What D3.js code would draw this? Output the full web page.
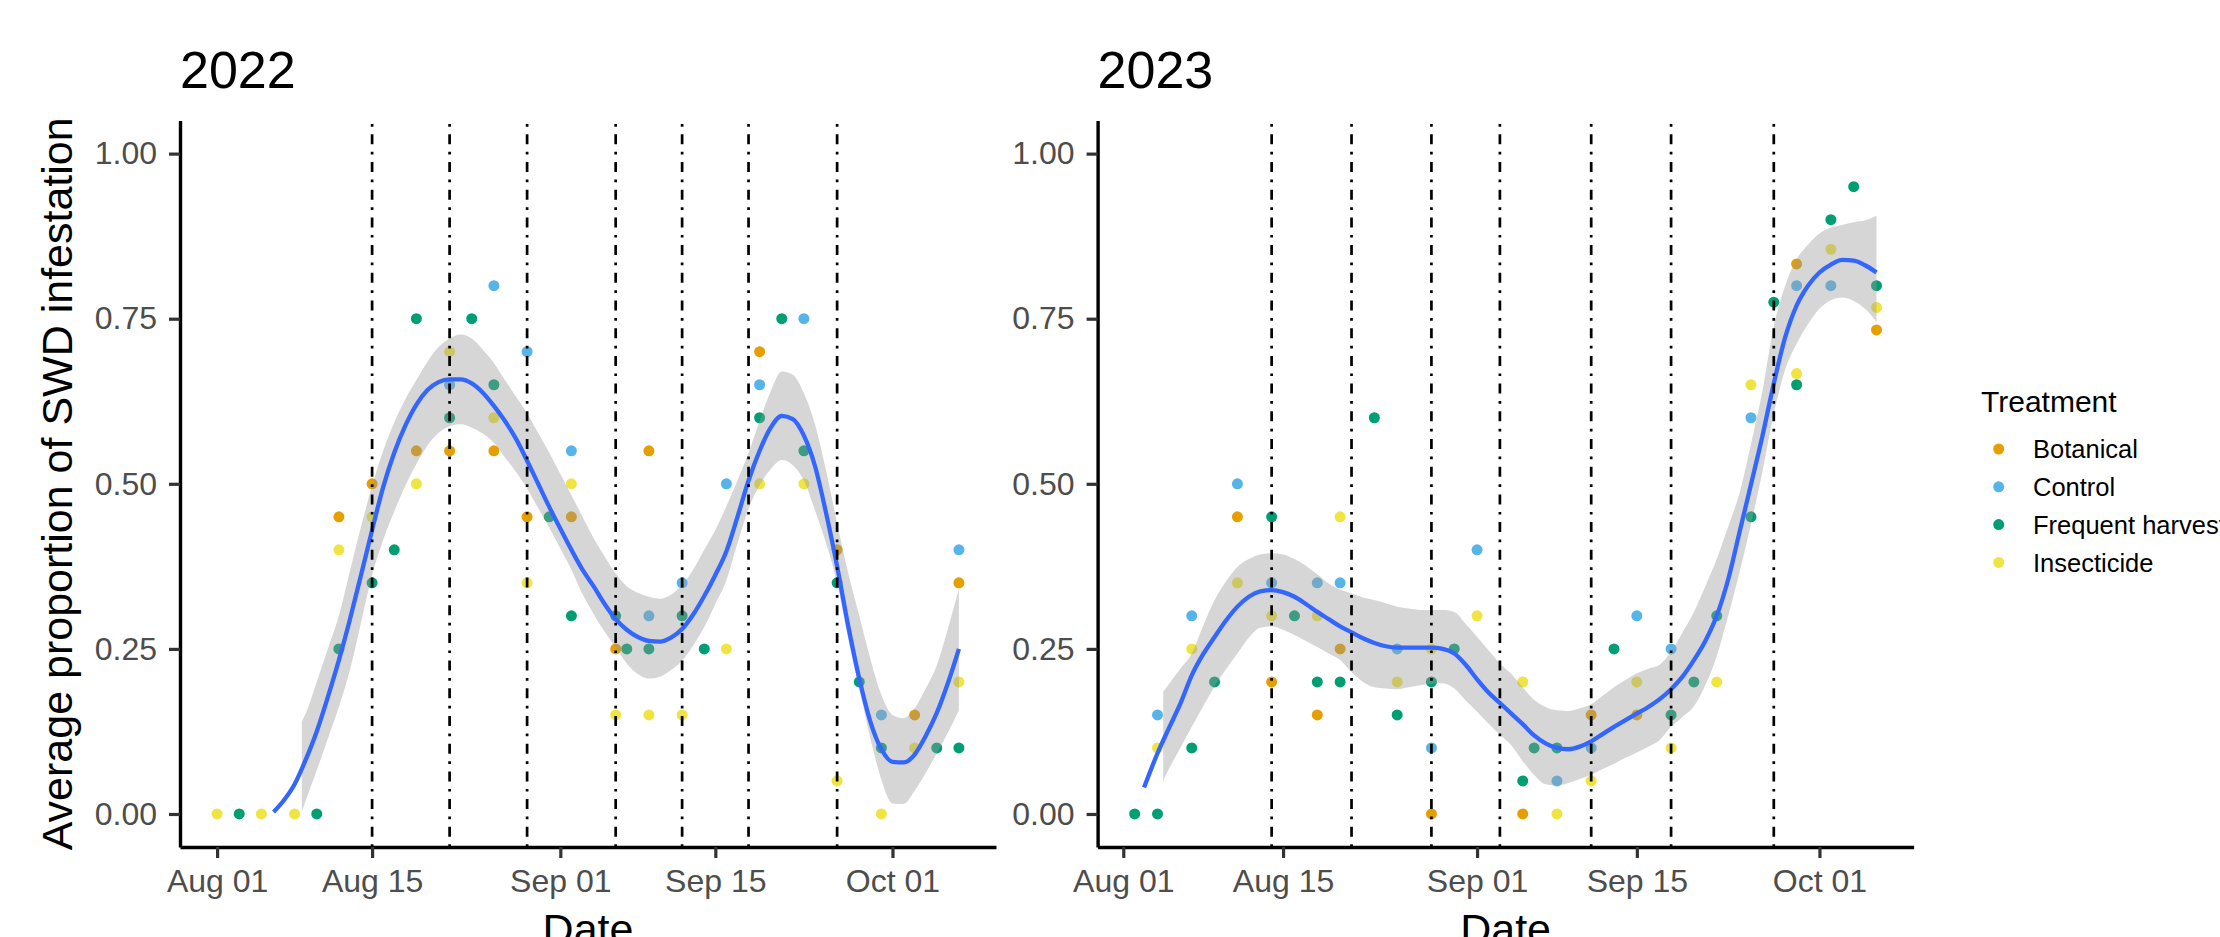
<!DOCTYPE html>
<html>
<head>
<meta charset="utf-8">
<script src="https://cdn.jsdelivr.net/npm/d3@7"></script>
<style>
body { margin: 0; background: #fff; }
text { font-family: "Liberation Sans", Arial, Helvetica, sans-serif; }
</style>
</head>
<body>
<div id="chart"></div>
<script>
var treatments = ["Botanical", "Control", "Frequent harvest", "Insecticide"];
var treatmentColors = ["#E69F00", "#56B4E9", "#009E73", "#F0E442"];
var yTicks = [0, 0.25, 0.5, 0.75, 1];
var xTickDays = ["08-01", "08-15", "09-01", "09-15", "10-01"];

// 2022 observations: [month-day, average proportion]
var botanical2022 = [["08-12", 0.45], ["08-15", 0.5], ["08-19", 0.55], ["08-22", 0.55], ["08-26", 0.55], ["08-29", 0.45],
    ["09-02", 0.45], ["09-06", 0.25], ["09-09", 0.55], ["09-19", 0.7], ["09-26", 0.4], ["10-03", 0.15], ["10-07", 0.35]];
var control2022 = [["08-22", 0.65], ["08-26", 0.8], ["08-29", 0.7], ["09-02", 0.55], ["09-09", 0.3], ["09-12", 0.35],
    ["09-16", 0.5], ["09-19", 0.65], ["09-23", 0.75], ["09-30", 0.15], ["10-07", 0.4]];
var frequent2022 = [["08-03", 0], ["08-10", 0], ["08-12", 0.25], ["08-15", 0.35], ["08-17", 0.4], ["08-19", 0.75],
    ["08-22", 0.6], ["08-24", 0.75], ["08-26", 0.65], ["08-31", 0.45], ["09-02", 0.3], ["09-06", 0.3], ["09-07", 0.25],
    ["09-09", 0.25], ["09-12", 0.3], ["09-14", 0.25], ["09-19", 0.6], ["09-21", 0.75], ["09-23", 0.55], ["09-26", 0.35],
    ["09-28", 0.2], ["09-30", 0.1], ["10-05", 0.1], ["10-07", 0.1]];
var insecticide2022 = [["08-01", 0], ["08-05", 0], ["08-08", 0], ["08-12", 0.4], ["08-15", 0.45], ["08-19", 0.5],
    ["08-22", 0.7], ["08-26", 0.6], ["08-29", 0.35], ["09-02", 0.5], ["09-06", 0.15], ["09-09", 0.15], ["09-12", 0.15],
    ["09-16", 0.25], ["09-19", 0.5], ["09-23", 0.5], ["09-26", 0.05], ["09-30", 0], ["10-03", 0.1], ["10-07", 0.2]];
var sprays2022 = ["08-15", "08-22", "08-29", "09-06", "09-12", "09-18", "09-26"];

// 2023 observations
var botanical2023 = [["08-11", 0.45], ["08-14", 0.2], ["08-18", 0.15], ["08-20", 0.25], ["08-28", 0], ["09-05", 0],
    ["09-11", 0.15], ["09-15", 0.15], ["09-29", 0.833], ["10-06", 0.733]];
var control2023 = [["08-04", 0.15], ["08-07", 0.3], ["08-11", 0.5], ["08-14", 0.35], ["08-18", 0.35], ["08-20", 0.35],
    ["08-25", 0.25], ["08-28", 0.1], ["09-01", 0.4], ["09-08", 0.05], ["09-11", 0.1], ["09-15", 0.3], ["09-18", 0.25],
    ["09-25", 0.6], ["09-29", 0.8], ["10-02", 0.8]];
var frequent2023 = [["08-02", 0], ["08-04", 0], ["08-07", 0.1], ["08-09", 0.2], ["08-14", 0.45], ["08-16", 0.3],
    ["08-18", 0.2], ["08-20", 0.2], ["08-23", 0.6], ["08-25", 0.15], ["08-28", 0.2], ["08-30", 0.25], ["09-05", 0.05],
    ["09-06", 0.1], ["09-08", 0.1], ["09-13", 0.25], ["09-18", 0.15], ["09-20", 0.2], ["09-22", 0.3], ["09-25", 0.45],
    ["09-27", 0.775], ["09-29", 0.65], ["10-02", 0.9], ["10-04", 0.95], ["10-06", 0.8]];
var insecticide2023 = [["08-04", 0.1], ["08-07", 0.25], ["08-11", 0.35], ["08-14", 0.3], ["08-18", 0.3], ["08-20", 0.45],
    ["08-25", 0.2], ["08-28", 0.25], ["09-01", 0.3], ["09-05", 0.2], ["09-08", 0], ["09-11", 0.05], ["09-15", 0.2],
    ["09-18", 0.1], ["09-22", 0.2], ["09-25", 0.65], ["09-29", 0.667], ["10-02", 0.855], ["10-06", 0.767]];
var sprays2023 = ["08-14", "08-21", "08-28", "09-03", "09-11", "09-18", "09-27"];

// smoother, x in days after Aug 01
var fitDays2022 = [5.1, 6, 7, 8, 9, 10, 11, 12, 13, 14, 15, 16, 17, 18, 19, 20, 21, 22, 23, 24, 25, 26, 27, 28, 29, 30, 31,
    32, 33, 34, 35, 36, 37, 38, 39, 40, 41, 42, 43, 44, 45, 46, 47, 48, 49, 50, 51, 52, 53, 54, 55, 56, 57, 58, 59, 60,
    61, 62, 63, 64, 65, 66, 67];
var fit2022 = [0.003, 0.02, 0.045, 0.082, 0.125, 0.177, 0.233, 0.295, 0.362, 0.43, 0.495, 0.547, 0.588, 0.62, 0.642,
    0.654, 0.658, 0.658, 0.652, 0.638, 0.618, 0.595, 0.568, 0.535, 0.5, 0.465, 0.432, 0.4, 0.37, 0.345, 0.318, 0.295,
    0.279, 0.268, 0.262, 0.261, 0.267, 0.28, 0.302, 0.33, 0.362, 0.398, 0.45, 0.505, 0.55, 0.585, 0.603, 0.598, 0.573,
    0.527, 0.456, 0.375, 0.285, 0.205, 0.14, 0.098, 0.079, 0.078, 0.09, 0.118, 0.153, 0.198, 0.25];
var bandDays2022 = [7.65, 8, 9, 10, 11, 12, 13, 14, 15, 16, 17, 18, 19, 20, 21, 22, 23, 24, 25, 26, 27, 28, 29, 30, 31,
    32, 33, 34, 35, 36, 37, 38, 39, 40, 41, 42, 43, 44, 45, 46, 47, 48, 49, 50, 51, 52, 53, 54, 55, 56, 57, 58, 59, 60,
    61, 62, 63, 64, 65, 66, 67];
var bandLow2022 = [0.003, 0.02, 0.066, 0.114, 0.162, 0.218, 0.29, 0.362, 0.415, 0.458, 0.497, 0.53, 0.558, 0.577, 0.587,
    0.59, 0.585, 0.576, 0.562, 0.54, 0.518, 0.493, 0.463, 0.434, 0.402, 0.37, 0.333, 0.303, 0.276, 0.252, 0.228, 0.212,
    0.205, 0.208, 0.218, 0.232, 0.255, 0.283, 0.318, 0.354, 0.41, 0.462, 0.498, 0.522, 0.536, 0.528, 0.505, 0.46, 0.41,
    0.35, 0.265, 0.19, 0.115, 0.052, 0.016, 0.015, 0.035, 0.062, 0.092, 0.123, 0.157];
var bandHigh2022 = [0.14, 0.152, 0.2, 0.25, 0.3, 0.368, 0.435, 0.497, 0.55, 0.593, 0.628, 0.657, 0.685, 0.707, 0.72,
    0.726, 0.72, 0.703, 0.683, 0.657, 0.632, 0.607, 0.577, 0.547, 0.515, 0.483, 0.45, 0.418, 0.39, 0.364, 0.345, 0.335,
    0.329, 0.326, 0.332, 0.347, 0.37, 0.4, 0.43, 0.466, 0.505, 0.547, 0.595, 0.64, 0.67, 0.665, 0.637, 0.59, 0.52, 0.44,
    0.365, 0.3, 0.235, 0.18, 0.15, 0.145, 0.16, 0.19, 0.225, 0.28, 0.341];

var fitDays2023 = [1.82, 3, 4, 5, 6, 7, 8, 9, 10, 11, 12, 13, 14, 15, 16, 17, 18, 19, 20, 21, 22, 23, 24, 25, 26, 27, 28,
    29, 30, 31, 32, 33, 34, 35, 36, 37, 38, 39, 40, 41, 42, 43, 44, 45, 46, 47, 48, 49, 50, 51, 52, 53, 54, 55, 56, 57,
    58, 59, 60, 61, 62, 63, 64, 65, 66];
var fit2023 = [0.04, 0.092, 0.13, 0.167, 0.21, 0.242, 0.268, 0.293, 0.314, 0.329, 0.337, 0.339, 0.336, 0.329, 0.318,
    0.306, 0.295, 0.284, 0.275, 0.266, 0.259, 0.254, 0.252, 0.252, 0.252, 0.252, 0.25, 0.243, 0.226, 0.204, 0.184, 0.168,
    0.152, 0.136, 0.119, 0.107, 0.1, 0.098, 0.102, 0.11, 0.121, 0.132, 0.142, 0.152, 0.162, 0.174, 0.189, 0.208, 0.233,
    0.262, 0.3, 0.355, 0.427, 0.499, 0.572, 0.652, 0.722, 0.77, 0.8, 0.82, 0.832, 0.839, 0.838, 0.831, 0.82];
var bandDays2023 = [3.5, 4, 5, 6, 7, 8, 9, 10, 11, 12, 13, 14, 15, 16, 17, 18, 19, 20, 21, 22, 23, 24, 25, 26, 27, 28, 29,
    30, 31, 32, 33, 34, 35, 36, 37, 38, 39, 40, 41, 42, 43, 44, 45, 46, 47, 48, 49, 50, 51, 52, 53, 54, 55, 56, 57, 58,
    59, 60, 61, 62, 63, 64, 65, 66];
var bandLow2023 = [0.05, 0.068, 0.1, 0.132, 0.163, 0.193, 0.219, 0.243, 0.267, 0.282, 0.284, 0.279, 0.271, 0.262, 0.253,
    0.243, 0.233, 0.215, 0.2, 0.192, 0.19, 0.189, 0.192, 0.195, 0.197, 0.198, 0.19, 0.172, 0.155, 0.137, 0.12, 0.104,
    0.08, 0.059, 0.045, 0.043, 0.047, 0.053, 0.059, 0.068, 0.076, 0.085, 0.093, 0.102, 0.112, 0.132, 0.147, 0.163, 0.195,
    0.239, 0.3, 0.366, 0.439, 0.518, 0.606, 0.673, 0.712, 0.742, 0.765, 0.778, 0.782, 0.777, 0.765, 0.745];
var bandHigh2023 = [0.185, 0.197, 0.22, 0.243, 0.285, 0.324, 0.352, 0.374, 0.386, 0.393, 0.395, 0.393, 0.386, 0.376,
    0.363, 0.349, 0.34, 0.334, 0.328, 0.324, 0.319, 0.314, 0.311, 0.309, 0.309, 0.309, 0.306, 0.288, 0.268, 0.248, 0.228,
    0.212, 0.192, 0.173, 0.162, 0.157, 0.156, 0.16, 0.166, 0.179, 0.192, 0.203, 0.213, 0.22, 0.226, 0.246, 0.275, 0.306,
    0.345, 0.386, 0.435, 0.486, 0.56, 0.64, 0.739, 0.8, 0.84, 0.862, 0.879, 0.888, 0.892, 0.896, 0.899, 0.906];

var panels = [
    { year: 2022, left: 180, points: [botanical2022, control2022, frequent2022, insecticide2022], sprays: sprays2022,
      fitDays: fitDays2022, fit: fit2022, bandDays: bandDays2022, low: bandLow2022, high: bandHigh2022 },
    { year: 2023, left: 1097.6, points: [botanical2023, control2023, frequent2023, insecticide2023], sprays: sprays2023,
      fitDays: fitDays2023, fit: fit2023, bandDays: bandDays2023, low: bandLow2023, high: bandHigh2023 }
];

var dim = { width: 2220, height: 937, panelWidth: 816, top: 120.6, bottom: 847 };
var parseDate = d3.utcParse("%Y-%m-%d");

var svg = d3.select("#chart").append("svg")
    .attr("width", dim.width)
    .attr("height", dim.height);

var y = d3.scaleLinear()
    .domain([-0.05, 1.05])
    .range([dim.bottom, dim.top]);

panels.forEach(function (p) {
    function md(s) { return parseDate(p.year + "-" + s); }
    var start = md("08-01");
    function day(d) { return new Date(+start + d * 864e5); }

    var dates = [];
    p.points.forEach(function (s) { s.forEach(function (d) { dates.push(md(d[0])); }); });
    var ext = d3.extent(dates), pad = (ext[1] - ext[0]) * 0.05;

    var x = d3.scaleUtc()
        .domain([new Date(+ext[0] - pad), new Date(+ext[1] + pad)])
        .range([p.left, p.left + dim.panelWidth]);

    var g = svg.append("g").attr("class", "panel-" + p.year);

    // points
    p.points.forEach(function (series, i) {
        g.append("g").selectAll("circle")
            .data(series)
            .enter().append("circle")
            .attr("cx", function (d) { return x(md(d[0])); })
            .attr("cy", function (d) { return y(d[1]); })
            .attr("r", 5.5)
            .attr("fill", treatmentColors[i]);
    });

    // confidence band
    var band = d3.area()
        .x(function (d) { return x(day(d)); })
        .y0(function (d, i) { return y(p.low[i]); })
        .y1(function (d, i) { return y(p.high[i]); })
        .curve(d3.curveMonotoneX);
    g.append("path")
        .datum(p.bandDays)
        .attr("d", band)
        .attr("fill", "#999999")
        .attr("fill-opacity", 0.4);

    var line = d3.line()
        .x(function (d) { return x(day(d)); })
        .y(function (d, i) { return y(p.fit[i]); })
        .curve(d3.curveMonotoneX);
    g.append("path")
        .datum(p.fitDays)
        .attr("d", line)
        .attr("fill", "none")
        .attr("stroke", "#3366FF")
        .attr("stroke-width", 4.3);

    // spray dates
    g.append("g").selectAll("line")
        .data(p.sprays)
        .enter().append("line")
        .attr("x1", function (d) { return x(md(d)); })
        .attr("x2", function (d) { return x(md(d)); })
        .attr("y1", dim.bottom)
        .attr("y2", dim.top)
        .attr("stroke", "#000")
        .attr("stroke-width", 2.7)
        .attr("stroke-dasharray", "2.7,7.5,10,7.5");

    // axes
    var xAxis = d3.axisBottom(x)
        .tickValues(xTickDays.map(md))
        .tickFormat(d3.utcFormat("%b %d"))
        .tickSize(11)
        .tickSizeOuter(0)
        .tickPadding(11);
    var yAxis = d3.axisLeft(y)
        .tickValues(yTicks)
        .tickFormat(d3.format(".2f"))
        .tickSize(11)
        .tickSizeOuter(0)
        .tickPadding(12);

    var gx = g.append("g")
        .attr("transform", "translate(0," + dim.bottom + ")")
        .call(xAxis);
    var gy = g.append("g")
        .attr("transform", "translate(" + p.left + ",0)")
        .call(yAxis);

    [gx, gy].forEach(function (a) {
        a.select(".domain").attr("stroke", "#000").attr("stroke-width", 3.4);
        a.selectAll(".tick line").attr("stroke", "#333333").attr("stroke-width", 3.2);
        a.selectAll(".tick text")
            .attr("fill", "#4D4D4D")
            .style("font-size", "32px")
            .style("font-family", "'Liberation Sans', Arial, sans-serif");
    });

    g.append("text")
        .attr("x", p.left)
        .attr("y", 88)
        .style("font-size", "52px")
        .attr("fill", "#000")
        .text(String(p.year));

    g.append("text")
        .attr("x", p.left + dim.panelWidth / 2)
        .attr("y", 944)
        .attr("text-anchor", "middle")
        .style("font-size", "43px")
        .text("Date");
});

svg.append("text")
    .attr("transform", "translate(72," + (dim.top + dim.bottom) / 2 + ") rotate(-90)")
    .attr("text-anchor", "middle")
    .style("font-size", "43px")
    .text("Average proportion of SWD infestation");

// legend
var legend = svg.append("g").attr("transform", "translate(1981,0)");
legend.append("text")
    .attr("x", 0)
    .attr("y", 411.7)
    .style("font-size", "30px")
    .text("Treatment");

var keys = legend.selectAll("g.key")
    .data(treatments)
    .enter().append("g")
    .attr("class", "key")
    .attr("transform", function (d, i) { return "translate(0," + (449 + i * 37.8) + ")"; });
keys.append("circle")
    .attr("cx", 17.7)
    .attr("r", 5.5)
    .attr("fill", function (d, i) { return treatmentColors[i]; });
keys.append("text")
    .attr("x", 52)
    .attr("dy", "0.36em")
    .style("font-size", "25.5px")
    .text(function (d) { return d; });
</script>
</body>
</html>
